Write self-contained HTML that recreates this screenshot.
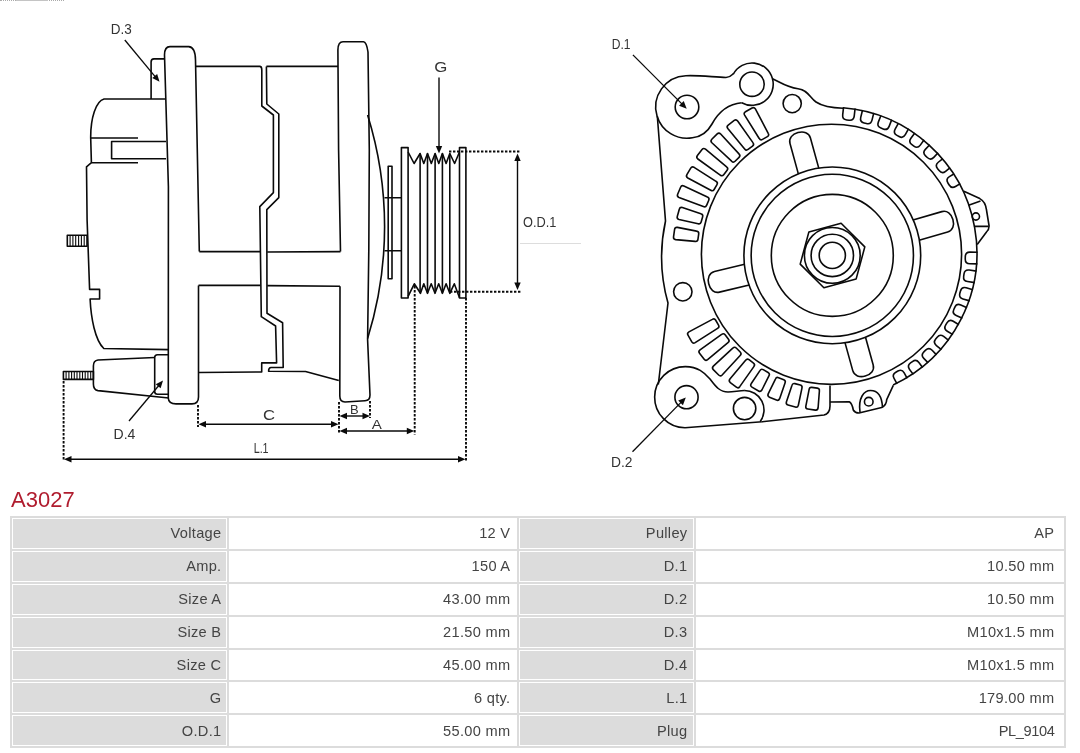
<!DOCTYPE html>
<html><head><meta charset="utf-8"><style>
html,body{margin:0;padding:0;background:#fff;width:1080px;height:753px;overflow:hidden;}
body{position:relative;font-family:"Liberation Sans",sans-serif;}
svg{position:absolute;left:0;top:0;}
.dr{fill:none;stroke:#0a0a0a;stroke-width:1.6;stroke-linejoin:round;}
.lb{stroke:none;} .lb text{font-family:"Liberation Sans",sans-serif;fill:#333;stroke:none;}
h1{position:absolute;left:10.5px;top:485.5px;margin:0;font-weight:normal;font-size:22px;line-height:28px;color:#b01c2e;}
table{position:absolute;left:10px;top:516px;border-collapse:separate;border-spacing:2px;background:#dcdcdc;table-layout:fixed;width:1056px;}
td{border:1px solid #fff;background:#fff;height:30.9px;padding:0 5.6px 0 6px;text-align:right;font-size:14.6px;color:#444;letter-spacing:0.3px;box-sizing:border-box;}
td.g{background:#dcdcdc;} td:nth-child(1){padding-right:4.6px;} td:nth-child(4){padding-right:8.6px;}
</style></head><body>
<div style="position:absolute;left:0;top:0;width:64px;height:0;border-top:1px dotted #aaa;"></div><div style="position:absolute;left:16px;top:0;width:32px;height:1px;background:#c4c4c4;"></div>
<svg class="dr" width="1080" height="480" viewBox="0 0 1080 480">
<g><path d="M165 99 L104 99 C96 101 90.5 118 90.7 138 L91.4 162.7 L86.5 166.8 L87.1 220 L89.6 289.4 L99.6 289.4 L99.6 299 L90.1 299 C91 318 95 340 103.8 348.5 L168.7 349.6"/><path d="M91 138 L138 138 M91.4 162.7 L138 162.7 M166 141.5 L111.6 141.5 L111.6 158.8 L166 158.8"/><path d="M164.5 58.9 L154 58.9 Q151.1 58.9 151.1 62 L151.1 98.9"/><path d="M199.3 251.6 L195.5 60 Q195.3 47 188.7 46.6 L170 46.6 Q164.5 46.6 164.5 55 L168.4 186.4 L168.3 398 Q168.5 403.9 176 403.9 L192 403.9 Q198.5 403.9 198.5 397 L198.5 285.4"/><path d="M154.7 357.5 L98 360 Q93.4 360.5 93.4 366 L93.4 384 Q93.4 390 98 390.6 L168.7 398"/><path d="M168.7 354.7 L157.5 354.7 Q154.7 354.7 154.7 357.5 L154.7 391.5 Q154.7 394.2 157.5 394.2 L168.7 394.2"/><rect x="67.3" y="235.3" width="19.7" height="10.9"/><path d="M70.1 235.3 L70.1 246.2" stroke-width="1.1"/><path d="M72.9 235.3 L72.9 246.2" stroke-width="1.1"/><path d="M75.7 235.3 L75.7 246.2" stroke-width="1.1"/><path d="M78.6 235.3 L78.6 246.2" stroke-width="1.1"/><path d="M81.4 235.3 L81.4 246.2" stroke-width="1.1"/><path d="M84.2 235.3 L84.2 246.2" stroke-width="1.1"/><rect x="63.4" y="371.5" width="30" height="7.9"/><path d="M66.1 371.5 L66.1 379.4" stroke-width="1.1"/><path d="M68.9 371.5 L68.9 379.4" stroke-width="1.1"/><path d="M71.6 371.5 L71.6 379.4" stroke-width="1.1"/><path d="M74.3 371.5 L74.3 379.4" stroke-width="1.1"/><path d="M77.0 371.5 L77.0 379.4" stroke-width="1.1"/><path d="M79.8 371.5 L79.8 379.4" stroke-width="1.1"/><path d="M82.5 371.5 L82.5 379.4" stroke-width="1.1"/><path d="M85.2 371.5 L85.2 379.4" stroke-width="1.1"/><path d="M87.9 371.5 L87.9 379.4" stroke-width="1.1"/><path d="M90.7 371.5 L90.7 379.4" stroke-width="1.1"/><path d="M196 66.4 L259.7 66.4 Q261.8 66.4 261.8 69.9 L261.8 106 L273.4 115 L273.4 192.6 L259.8 206.6 L261.3 316.7 L275.6 326 L276.6 362.9 L261.7 362.9 L261.7 371.9 L199 372.5"/><path d="M266.4 66.4 L338 66.4 M266.4 66.4 L266.8 104 L278.8 114 L278.8 197.6 L266.8 209.6 L267 313.3 L282.6 322.7 L283.2 367.5 L271 367.5 Q268.6 367.5 268.6 371.2 L305.5 371.5 L338.8 380.6"/><path d="M199.3 251.6 L260.5 251.6 M267.2 252 L340.5 251.6 M198.5 285.4 L260.5 285.4 M267.2 285.6 L340 286.2"/><path d="M340.5 251.6 L338.6 150 L337.9 50 Q338 41.8 343 41.8 L363.5 41.8 Q366.5 42 368 52 L369.3 150 L368.8 250 L367.6 339.8 L370 395 Q370 400.6 365 400.8 L345 402 Q339.8 402 339.8 396 L340 286.2"/><path d="M367.6 114.9 A376 376 0 0 1 367.6 338.4"/><path d="M384.5 197.7 L401.3 197.7 M384.5 250.7 L401.3 250.7"/><rect x="388.2" y="166.3" width="3.8" height="112.5"/><path d="M401.4 298 L401.4 147.6 L408.1 147.6 L408.1 298 Z"/><path d="M459.5 298 L459.5 147.6 L465.9 147.6 L465.9 298 Z"/><path d="M408.1 152 L414.1 163.5 L420.1 153.5 L423.8 163.5 L427.5 153.5 L431.3 163.5 L435.1 153.5 L438.8 163.5 L442.4 153.5 L446.1 163.5 L449.8 153.5 L454.6 163.5 L459.5 152"/><path d="M408.1 296.3 L414.3 283.8 L420.5 293.3 L423.8 283.8 L427.5 293.3 L431.2 283.8 L435 293.3 L438.7 283.8 L442.4 293.3 L446.1 283.8 L449.8 293.3 L454.3 283.8 L459.5 297.7"/><path d="M420.1 153.5 L420.1 293.3"/><path d="M427.5 153.5 L427.5 293.3"/><path d="M435.1 153.5 L435.1 293.3"/><path d="M442.4 153.5 L442.4 293.3"/><path d="M449.8 153.5 L449.8 293.3"/><path d="M449 151.5 L520 151.5" stroke-dasharray="2.4 1.6" stroke-width="1.9"/><path d="M450 291.8 L522 291.8" stroke-dasharray="2.4 1.6" stroke-width="1.9"/><path d="M63.6 381 L63.6 461" stroke-dasharray="2.4 1.6" stroke-width="1.9"/><path d="M198 405 L198 427" stroke-dasharray="2.4 1.6" stroke-width="1.9"/><path d="M339 402 L339 434" stroke-dasharray="2.4 1.6" stroke-width="1.9"/><path d="M370 401 L370 418" stroke-dasharray="2.4 1.6" stroke-width="1.9"/><path d="M414.7 286 L414.7 434.6" stroke-dasharray="2.4 1.6" stroke-width="1.9"/><path d="M466 298 L466 461.7" stroke-dasharray="2.4 1.6" stroke-width="1.9"/><path stroke-width="1.4" d="M204.5 424.2 L332.5 424.2"/><polygon fill="#0a0a0a" stroke="none" points="198.50,424.20 206.00,421.00 206.00,427.40"/><polygon fill="#0a0a0a" stroke="none" points="338.50,424.20 331.00,427.40 331.00,421.00"/><path stroke-width="1.4" d="M345.5 416 L364 416"/><polygon fill="#0a0a0a" stroke="none" points="339.50,416.00 347.00,412.80 347.00,419.20"/><polygon fill="#0a0a0a" stroke="none" points="370.00,416.00 362.50,419.20 362.50,412.80"/><path stroke-width="1.4" d="M345.5 431 L408.3 431"/><polygon fill="#0a0a0a" stroke="none" points="339.50,431.00 347.00,427.80 347.00,434.20"/><polygon fill="#0a0a0a" stroke="none" points="414.30,431.00 406.80,434.20 406.80,427.80"/><path stroke-width="1.4" d="M70 459.3 L459.5 459.3"/><polygon fill="#0a0a0a" stroke="none" points="64.00,459.30 71.50,456.10 71.50,462.50"/><polygon fill="#0a0a0a" stroke="none" points="465.50,459.30 458.00,462.50 458.00,456.10"/><path stroke-width="1.4" d="M517.5 159 L517.5 285"/><polygon fill="#0a0a0a" stroke="none" points="517.50,153.50 520.70,161.00 514.30,161.00"/><polygon fill="#0a0a0a" stroke="none" points="517.50,290.00 514.30,282.50 520.70,282.50"/><path d="M520 243.5 L581 243.5" stroke="#ddd" stroke-width="1"/><path stroke-width="1.4" d="M439.00 77.50 L439.00 147.00"/><polygon fill="#0a0a0a" stroke="none" points="439.00,153.50 435.80,146.00 442.20,146.00"/><path stroke-width="1.3" d="M124.80 40.00 L155.35 76.80"/><polygon fill="#0a0a0a" stroke="none" points="159.50,81.80 152.25,78.07 157.17,73.99"/><path stroke-width="1.3" d="M129.00 421.00 L158.82 385.48"/><polygon fill="#0a0a0a" stroke="none" points="163.00,380.50 160.63,388.30 155.73,384.19"/></g>
<g><circle cx="831.5" cy="254.3" r="130.1"/><circle cx="832.3" cy="255.4" r="88.4"/><circle cx="832.3" cy="255.4" r="81.15"/><circle cx="832.3" cy="255.4" r="61.0"/><circle cx="832.3" cy="255.4" r="27.9"/><circle cx="832.3" cy="255.4" r="21.2"/><circle cx="832.3" cy="255.4" r="13.1"/><polygon points="841.1,223.2 864.8,246.9 856.1,279.1 823.9,287.8 800.2,264.1 808.9,231.9"/><path transform="translate(831.5 254.3) rotate(-16.00)" d="M87.8 -10.6 L117.8 -10.6 C123.3 -10.6 126.3 -5.8 126.3 0 C126.3 5.8 123.3 10.6 117.8 10.6 L88.1 10.6"/><path transform="translate(831.5 254.3) rotate(74.50)" d="M88.8 -10.6 L117.8 -10.6 C123.3 -10.6 126.3 -5.8 126.3 0 C126.3 5.8 123.3 10.6 117.8 10.6 L88.7 10.6"/><path transform="translate(831.5 254.3) rotate(166.50)" d="M87.1 -10.6 L117.8 -10.6 C123.3 -10.6 126.3 -5.8 126.3 0 C126.3 5.8 123.3 10.6 117.8 10.6 L86.8 10.6"/><path transform="translate(831.5 254.3) rotate(254.60)" d="M86.1 -10.6 L117.8 -10.6 C123.3 -10.6 126.3 -5.8 126.3 0 C126.3 5.8 123.3 10.6 117.8 10.6 L86.2 10.6"/><path transform="translate(832.5 255.5) rotate(240.10)" d="M138.0 -5.2 L165.5 -6.2 Q168.0 -6.2 168.0 -3.8 L168.0 3.8 Q168.0 6.2 165.5 6.2 L138.0 5.2 Q135.5 5.2 135.5 2.8 L135.5 -2.8 Q135.5 -5.2 138.0 -5.2Z"/><path transform="translate(832.5 255.5) rotate(232.66)" d="M138.0 -5.2 L164.5 -6.2 Q167.0 -6.2 167.0 -3.8 L167.0 3.8 Q167.0 6.2 164.5 6.2 L138.0 5.2 Q135.5 5.2 135.5 2.8 L135.5 -2.8 Q135.5 -5.2 138.0 -5.2Z"/><path transform="translate(832.5 255.5) rotate(225.22)" d="M138.0 -5.2 L165.0 -6.2 Q167.5 -6.2 167.5 -3.8 L167.5 3.8 Q167.5 6.2 165.0 6.2 L138.0 5.2 Q135.5 5.2 135.5 2.8 L135.5 -2.8 Q135.5 -5.2 138.0 -5.2Z"/><path transform="translate(832.5 255.5) rotate(217.78)" d="M138.0 -5.2 L165.5 -6.2 Q168.0 -6.2 168.0 -3.8 L168.0 3.8 Q168.0 6.2 165.5 6.2 L138.0 5.2 Q135.5 5.2 135.5 2.8 L135.5 -2.8 Q135.5 -5.2 138.0 -5.2Z"/><path transform="translate(832.5 255.5) rotate(210.34)" d="M138.0 -5.2 L164.0 -6.2 Q166.5 -6.2 166.5 -3.8 L166.5 3.8 Q166.5 6.2 164.0 6.2 L138.0 5.2 Q135.5 5.2 135.5 2.8 L135.5 -2.8 Q135.5 -5.2 138.0 -5.2Z"/><path transform="translate(832.5 255.5) rotate(202.90)" d="M138.0 -5.2 L164.0 -6.2 Q166.5 -6.2 166.5 -3.8 L166.5 3.8 Q166.5 6.2 164.0 6.2 L138.0 5.2 Q135.5 5.2 135.5 2.8 L135.5 -2.8 Q135.5 -5.2 138.0 -5.2Z"/><path transform="translate(832.5 255.5) rotate(195.46)" d="M138.0 -5.2 L157.5 -6.2 Q160.0 -6.2 160.0 -3.8 L160.0 3.8 Q160.0 6.2 157.5 6.2 L138.0 5.2 Q135.5 5.2 135.5 2.8 L135.5 -2.8 Q135.5 -5.2 138.0 -5.2Z"/><path transform="translate(832.5 255.5) rotate(188.02)" d="M138.0 -5.2 L157.5 -6.2 Q160.0 -6.2 160.0 -3.8 L160.0 3.8 Q160.0 6.2 157.5 6.2 L138.0 5.2 Q135.5 5.2 135.5 2.8 L135.5 -2.8 Q135.5 -5.2 138.0 -5.2Z"/><path transform="translate(832.5 255.5) rotate(149.80)" d="M136.0 -5.2 L162.5 -6.2 Q165.0 -6.2 165.0 -3.8 L165.0 3.8 Q165.0 6.2 162.5 6.2 L136.0 5.2 Q133.5 5.2 133.5 2.8 L133.5 -2.8 Q133.5 -5.2 136.0 -5.2Z"/><path transform="translate(832.5 255.5) rotate(142.36)" d="M136.0 -5.2 L162.5 -6.2 Q165.0 -6.2 165.0 -3.8 L165.0 3.8 Q165.0 6.2 162.5 6.2 L136.0 5.2 Q133.5 5.2 133.5 2.8 L133.5 -2.8 Q133.5 -5.2 136.0 -5.2Z"/><path transform="translate(832.5 255.5) rotate(134.92)" d="M136.0 -5.2 L162.5 -6.2 Q165.0 -6.2 165.0 -3.8 L165.0 3.8 Q165.0 6.2 162.5 6.2 L136.0 5.2 Q133.5 5.2 133.5 2.8 L133.5 -2.8 Q133.5 -5.2 136.0 -5.2Z"/><path transform="translate(832.5 255.5) rotate(127.48)" d="M136.0 -5.2 L160.5 -6.2 Q163.0 -6.2 163.0 -3.8 L163.0 3.8 Q163.0 6.2 160.5 6.2 L136.0 5.2 Q133.5 5.2 133.5 2.8 L133.5 -2.8 Q133.5 -5.2 136.0 -5.2Z"/><path transform="translate(832.5 255.5) rotate(120.04)" d="M136.0 -5.2 L151.8 -6.2 Q154.3 -6.2 154.3 -3.8 L154.3 3.8 Q154.3 6.2 151.8 6.2 L136.0 5.2 Q133.5 5.2 133.5 2.8 L133.5 -2.8 Q133.5 -5.2 136.0 -5.2Z"/><path transform="translate(832.5 255.5) rotate(112.60)" d="M136.0 -5.2 L152.5 -6.2 Q155.0 -6.2 155.0 -3.8 L155.0 3.8 Q155.0 6.2 152.5 6.2 L136.0 5.2 Q133.5 5.2 133.5 2.8 L133.5 -2.8 Q133.5 -5.2 136.0 -5.2Z"/><path transform="translate(832.5 255.5) rotate(105.16)" d="M136.0 -5.2 L153.5 -6.2 Q156.0 -6.2 156.0 -3.8 L156.0 3.8 Q156.0 6.2 153.5 6.2 L136.0 5.2 Q133.5 5.2 133.5 2.8 L133.5 -2.8 Q133.5 -5.2 136.0 -5.2Z"/><path transform="translate(832.5 255.5) rotate(97.72)" d="M136.0 -5.2 L153.0 -6.2 Q155.5 -6.2 155.5 -3.8 L155.5 3.8 Q155.5 6.2 153.0 6.2 L136.0 5.2 Q133.5 5.2 133.5 2.8 L133.5 -2.8 Q133.5 -5.2 136.0 -5.2Z"/><path transform="translate(832.5 255.5) rotate(-83.50)" d="M148.6 -5.8 L140.9 -5.8 Q136.3 -5.8 136.3 -1.2 L136.3 1.2 Q136.3 5.8 140.9 5.8 L148.6 5.8"/><path transform="translate(832.5 255.5) rotate(-76.09)" d="M148.4 -5.8 L140.9 -5.8 Q136.3 -5.8 136.3 -1.2 L136.3 1.2 Q136.3 5.8 140.9 5.8 L148.4 5.8"/><path transform="translate(832.5 255.5) rotate(-68.68)" d="M148.1 -5.8 L140.9 -5.8 Q136.3 -5.8 136.3 -1.2 L136.3 1.2 Q136.3 5.8 140.9 5.8 L148.1 5.8"/><path transform="translate(832.5 255.5) rotate(-61.27)" d="M147.8 -5.8 L140.9 -5.8 Q136.3 -5.8 136.3 -1.2 L136.3 1.2 Q136.3 5.8 140.9 5.8 L147.8 5.8"/><path transform="translate(832.5 255.5) rotate(-53.86)" d="M147.5 -5.8 L140.9 -5.8 Q136.3 -5.8 136.3 -1.2 L136.3 1.2 Q136.3 5.8 140.9 5.8 L147.5 5.8"/><path transform="translate(832.5 255.5) rotate(-46.45)" d="M147.2 -5.8 L140.9 -5.8 Q136.3 -5.8 136.3 -1.2 L136.3 1.2 Q136.3 5.8 140.9 5.8 L147.2 5.8"/><path transform="translate(832.5 255.5) rotate(-39.04)" d="M146.8 -5.8 L140.9 -5.8 Q136.3 -5.8 136.3 -1.2 L136.3 1.2 Q136.3 5.8 140.9 5.8 L146.8 5.8"/><path transform="translate(832.5 255.5) rotate(-31.63)" d="M146.5 -5.8 L140.9 -5.8 Q136.3 -5.8 136.3 -1.2 L136.3 1.2 Q136.3 5.8 140.9 5.8 L146.5 5.8"/><path transform="translate(832.5 255.5) rotate(1.00)" d="M145.0 -5.8 L137.4 -5.8 Q132.8 -5.8 132.8 -1.2 L132.8 1.2 Q132.8 5.8 137.4 5.8 L145.0 5.8"/><path transform="translate(832.5 255.5) rotate(8.50)" d="M144.7 -5.8 L137.4 -5.8 Q132.8 -5.8 132.8 -1.2 L132.8 1.2 Q132.8 5.8 137.4 5.8 L144.7 5.8"/><path transform="translate(832.5 255.5) rotate(16.00)" d="M144.4 -5.8 L137.4 -5.8 Q132.8 -5.8 132.8 -1.2 L132.8 1.2 Q132.8 5.8 137.4 5.8 L144.4 5.8"/><path transform="translate(832.5 255.5) rotate(23.50)" d="M144.2 -5.8 L137.4 -5.8 Q132.8 -5.8 132.8 -1.2 L132.8 1.2 Q132.8 5.8 137.4 5.8 L144.2 5.8"/><path transform="translate(832.5 255.5) rotate(31.00)" d="M144.0 -5.8 L137.4 -5.8 Q132.8 -5.8 132.8 -1.2 L132.8 1.2 Q132.8 5.8 137.4 5.8 L144.0 5.8"/><path transform="translate(832.5 255.5) rotate(38.50)" d="M143.8 -5.8 L137.4 -5.8 Q132.8 -5.8 132.8 -1.2 L132.8 1.2 Q132.8 5.8 137.4 5.8 L143.8 5.8"/><path transform="translate(832.5 255.5) rotate(46.00)" d="M143.7 -5.8 L137.4 -5.8 Q132.8 -5.8 132.8 -1.2 L132.8 1.2 Q132.8 5.8 137.4 5.8 L143.7 5.8"/><path transform="translate(832.5 255.5) rotate(53.50)" d="M143.6 -5.8 L137.4 -5.8 Q132.8 -5.8 132.8 -1.2 L132.8 1.2 Q132.8 5.8 137.4 5.8 L143.6 5.8"/><path transform="translate(832.5 255.5) rotate(61.00)" d="M143.6 -5.8 L137.4 -5.8 Q132.8 -5.8 132.8 -1.2 L132.8 1.2 Q132.8 5.8 137.4 5.8 L143.6 5.8"/><circle cx="687" cy="107" r="11.8"/><circle cx="752" cy="84.2" r="12.2"/><circle cx="792.2" cy="103.6" r="9.1"/><circle cx="682.8" cy="291.8" r="9.2"/><circle cx="686.5" cy="397.2" r="11.6"/><circle cx="744.6" cy="408.6" r="11.2"/><circle cx="868.75" cy="401.7" r="4.3"/><circle cx="975.9" cy="216.5" r="3.6"/><path d="M843.0 107.8 A145.75 145.75 0 0 1 893.1 385.0"/><path d="M657.1 116.2 A31.3 31.3 0 0 1 685.9 75.7 C700 75 716 77.5 726 77.5 C730 77.5 731 76 733.5 73.5"/><path d="M733.3 74.2 A21.2 21.2 0 0 1 772.5 78.7 C780 82 786 87 798 88.7 C808 90 810 98 816 102 C822 106 830 108 843 108.2"/><path d="M772.5 78.7 A21.2 21.2 0 0 1 741.7 102.7"/><path d="M657.1 116.2 A31.3 31.3 0 0 0 692.4 137.8 C700 137 707 133 712 124 C718 113 728 104 741.7 102.8"/><path d="M657.3 116 L665.5 221 A169.5 169.5 0 0 0 668 303 L658.3 384.5"/><path d="M685.0 427.8 A30.6 30.6 0 0 1 685.5 366.6 C698 367 704 372 710 379 C716 387 720 392 728 392 C734 392 739 390.5 744.5 390.5"/><path d="M744.2 390.5 A19.5 19.5 0 0 1 760.1 421.7"/><path d="M685 427.8 L762 421.8 L824 415 Q830 413.5 830 406 L830 385.5"/><path d="M893.3 385.4 L886.7 399.6 Q886.5 405 881.7 407.5 L859 413 Q855 413 853.3 410 Q852 403 849.2 401.7 L830 402"/><path d="M860 412 C858 398 864 390.5 870.5 390.5 C878 390.5 882 397 882.5 407.5"/><path d="M963.9 191.2 L979.8 198.6 Q985.5 201.5 986.5 210 L989.1 226 Q989 230 986.5 232 L977.2 244.4"/><path d="M968.6 205.2 L980.5 201 M973.9 226.4 L988.8 226.4"/><path stroke-width="1.3" d="M632.90 54.90 L682.10 104.10"/><polygon fill="#0a0a0a" stroke="none" points="686.70,108.70 679.06,105.73 683.73,101.06"/><path stroke-width="1.3" d="M632.50 451.70 L681.24 402.13"/><polygon fill="#0a0a0a" stroke="none" points="685.80,397.50 682.89,405.16 678.19,400.53"/></g>
<g class="lb" style="will-change:transform"><text x="110.67" y="34.34" font-size="14.50" textLength="21.00" lengthAdjust="spacingAndGlyphs">D.3</text><text x="434.23" y="72.18" font-size="14.50" textLength="13.04" lengthAdjust="spacingAndGlyphs">G</text><text x="523.11" y="227.18" font-size="14.50" textLength="33.35" lengthAdjust="spacingAndGlyphs">O.D.1</text><text x="262.90" y="420.18" font-size="14.50" textLength="12.05" lengthAdjust="spacingAndGlyphs">C</text><text x="349.91" y="413.86" font-size="13.60" textLength="8.66" lengthAdjust="spacingAndGlyphs">B</text><text x="371.84" y="428.86" font-size="13.60" textLength="10.08" lengthAdjust="spacingAndGlyphs">A</text><text x="253.65" y="452.70" font-size="14.50" textLength="14.97" lengthAdjust="spacingAndGlyphs">L.1</text><text x="113.55" y="438.86" font-size="14.50" textLength="21.82" lengthAdjust="spacingAndGlyphs">D.4</text><text x="611.75" y="48.54" font-size="14.50" textLength="18.81" lengthAdjust="spacingAndGlyphs">D.1</text><text x="610.95" y="467.18" font-size="14.50" textLength="21.48" lengthAdjust="spacingAndGlyphs">D.2</text></g>
</svg>
<h1 style="will-change:transform">A3027</h1>
<table style="will-change:transform"><colgroup><col style="width:215px"><col style="width:288px"><col style="width:175px"><col style="width:368px"></colgroup><tr><td class="g">Voltage</td><td>12 V</td><td class="g">Pulley</td><td>AP</td></tr><tr><td class="g">Amp.</td><td>150 A</td><td class="g">D.1</td><td>10.50 mm</td></tr><tr><td class="g">Size A</td><td>43.00 mm</td><td class="g">D.2</td><td>10.50 mm</td></tr><tr><td class="g">Size B</td><td>21.50 mm</td><td class="g">D.3</td><td>M10x1.5 mm</td></tr><tr><td class="g">Size C</td><td>45.00 mm</td><td class="g">D.4</td><td>M10x1.5 mm</td></tr><tr><td class="g">G</td><td>6 qty.</td><td class="g">L.1</td><td>179.00 mm</td></tr><tr><td class="g">O.D.1</td><td>55.00 mm</td><td class="g">Plug</td><td><span style="letter-spacing:-0.4px">PL_9104</span></td></tr></table>
</body></html>
